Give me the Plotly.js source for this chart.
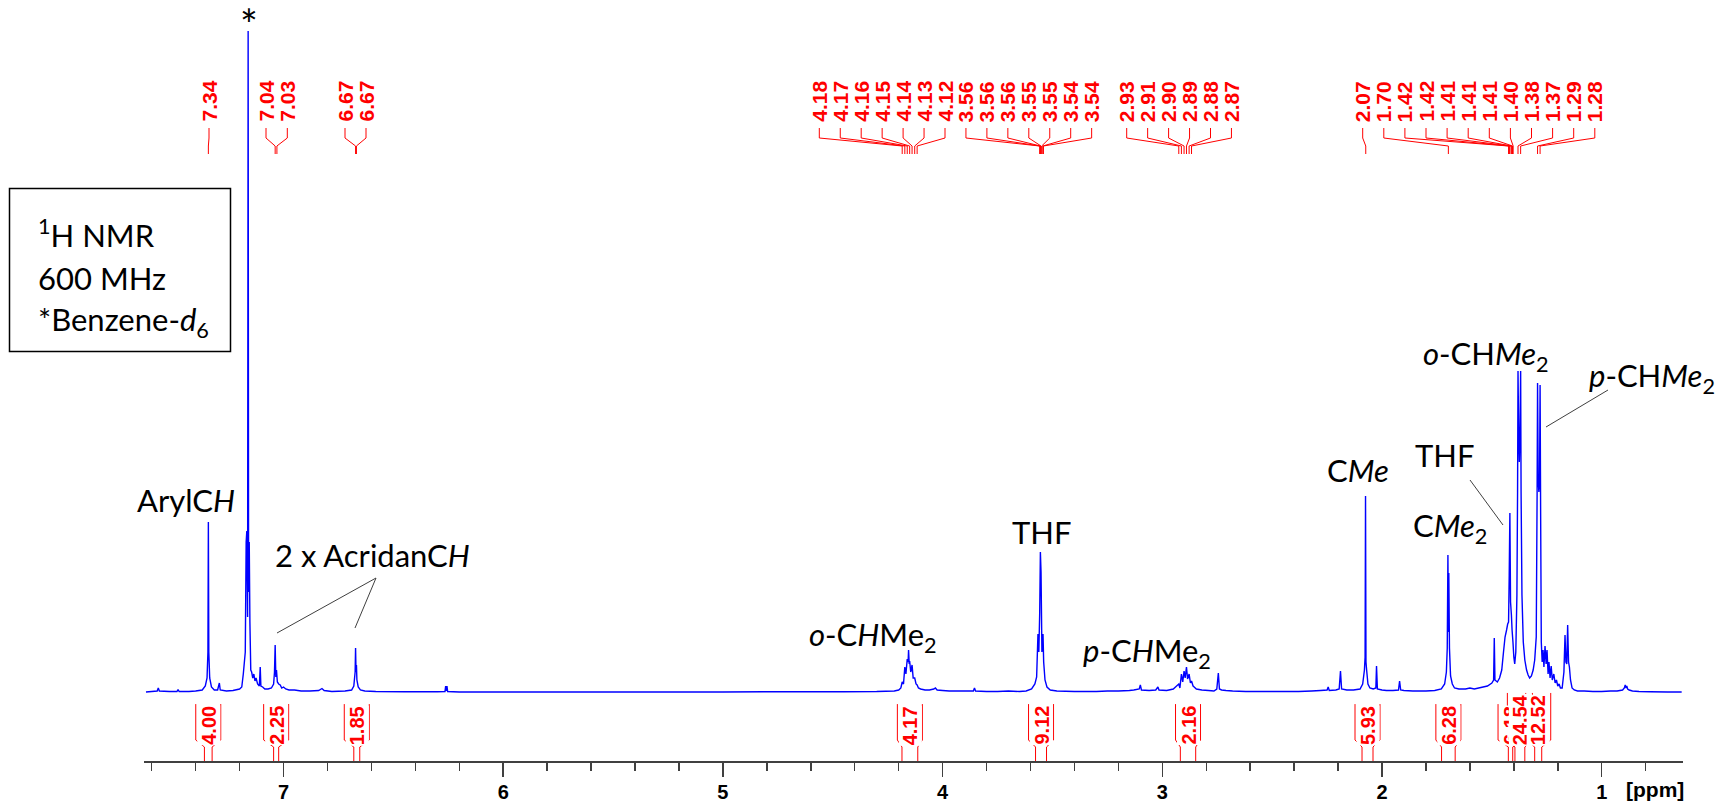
<!DOCTYPE html>
<html><head><meta charset="utf-8">
<script src="https://cdn.plot.ly/plotly-3.0.1.min.js"></script>
<style>html,body{margin:0;padding:0;background:#fff}#chart{width:1720px;height:805px}</style>
</head><body><div id="chart"></div>
<script>
// ---------------- DATA ----------------
const aromaticPpm = [7.626,7.60,7.575,7.570,7.565,7.52,7.485,7.480,7.475,7.43,7.40,7.37,7.356,7.348,7.344,7.342,7.340,7.336,7.328,7.315,7.300,7.292,7.288,7.26,7.23,7.20,7.19,7.183,7.174,7.170,7.167,7.1635,7.161,7.159,7.156,7.153,7.149,7.145,7.140,7.135,7.130,7.125,7.118,7.110,7.106,7.103,7.095,7.085,7.070,7.055,7.045,7.041,7.038,7.035,7.032,7.028,7.022,7.015,7.008,7.000,6.990,6.975,6.95,6.92,6.88,6.84,6.825,6.815,6.78,6.72,6.69,6.680,6.674,6.672,6.670,6.668,6.666,6.660,6.650,6.63,6.58,6.45,6.30,6.265,6.262,6.259,6.256,6.253,6.20,6.00];
const aromaticInt = [0,0.5,1,4,1,0.5,0.5,2.5,0.5,0.5,1,2,6,14,40,170,40,14,5,2,2,9,2,1,1.5,3,5,18,40,150,161,75,661,100,150,70,22,20,14,18,11,14,8,6,25,6,5,3,3,4,8,20,47,15,22,10,8,7,4,5,3,2,2,1,1,1.5,3.5,1.5,0.5,1,2,6,20,44,20,27,12,5,2,1,0.5,0.3,0.3,0.5,6,1,6,0.5,0,0];

const midPpm = [5.8,5.5,5.0,4.7,4.45,4.30,4.22,4.20,4.19,4.184,4.178,4.172,4.167,4.161,4.157,4.155,4.152,4.150,4.145,4.139,4.134,4.127,4.121,4.116,4.110,4.10,4.08,4.06,4.040,4.033,4.025,4.00,3.97,3.93,3.90,3.86,3.855,3.850,3.80,3.75,3.70,3.65,3.62,3.595,3.580,3.572,3.566,3.562,3.558,3.555,3.552,3.548,3.543,3.540,3.534,3.525,3.51,3.48,3.40,3.30,3.25,3.20,3.15,3.13,3.105,3.100,3.095,3.06,3.03,3.020,3.015,2.98,2.95,2.935,2.925,2.920,2.913,2.907,2.901,2.896,2.890,2.885,2.878,2.872,2.867,2.860,2.855,2.845,2.82,2.79,2.765,2.752,2.745,2.740,2.73,2.71,2.68,2.62,2.55,2.45];
const midInt = [0,0,0,0.3,0.3,0.5,1,2,4,10,8,25,18,33,30,42,28,31,20,27,14,14,8,7,4,3,2,2,3,4,2,1.5,1,1,1,1,4,1,0.5,0.5,1,0.5,1,3,8,15,58,40,80,140,120,40,58,30,12,5,2,1,0.5,0.5,1,1,1.5,2,3,7,2,1.5,2,5,2,1.5,3,6,8,4,18,10,21,14,25,13,18,9,11,6,5,3,2,1.5,1,3,19,3,2,1.5,1,0.5,0.5,0.5];

const aliphaticPpm = [2.38,2.32,2.28,2.25,2.245,2.240,2.21,2.195,2.189,2.184,2.16,2.13,2.10,2.088,2.080,2.077,2.075,2.073,2.070,2.064,2.055,2.04,2.028,2.025,2.021,2.00,1.98,1.95,1.925,1.920,1.915,1.90,1.86,1.80,1.76,1.73,1.715,1.707,1.703,1.700,1.698,1.696,1.693,1.688,1.680,1.670,1.65,1.62,1.60,1.58,1.56,1.54,1.52,1.50,1.492,1.489,1.486,1.475,1.465,1.455,1.447,1.440,1.433,1.428,1.424,1.421,1.418,1.415,1.411,1.408,1.404,1.400,1.396,1.391,1.386,1.383,1.381,1.378,1.375,1.372,1.369,1.367,1.363,1.357,1.350,1.342,1.335,1.328,1.320,1.312,1.305,1.298,1.294,1.292,1.289,1.286,1.283,1.2805,1.278,1.275,1.271,1.267,1.263,1.258,1.253,1.249,1.244,1.240,1.235,1.230,1.225,1.218,1.212,1.206,1.200,1.194,1.188,1.180,1.172,1.167,1.163,1.159,1.155,1.151,1.147,1.142,1.135,1.125,1.11,1.08,1.04,1.00,0.96,0.93,0.905,0.897,0.893,0.889,0.886,0.882,0.875,0.86,0.83,0.78,0.70,0.636];
const aliphaticInt = [0.5,1,1.5,2,5,1.5,2,3,21,3,2,2,3,8,22,35,196,30,22,8,4,3,4,26,3,2,1.5,1.5,2,11,2,1.5,1,1,1.5,3,8,20,44,137,60,119,44,16,8,4,3,3,4,3,4,5,6,9,12,54,12,10,14,22,40,55,62,68,70,117,179,90,77,62,50,35,28,40,97,200,321,260,230,260,321,200,97,50,32,22,17,14,16,22,32,55,200,309,211,200,210,307,180,50,30,42,25,46,28,42,18,30,14,26,12,18,9,12,6,8,4,4,20,57,30,28,67,30,25,12,4,2,1,1,0.5,0.5,1,1,2,4,7,4,6,3,2,1,0.5,0.3,0,0];

// peak picking (top labels)
const peakLabels = ['7.34','7.04','7.03','6.67','6.67','4.18','4.17','4.16','4.15','4.14','4.13','4.12','3.56','3.56','3.56','3.55','3.55','3.54','3.54','2.93','2.91','2.90','2.89','2.88','2.87','2.07','1.70','1.42','1.42','1.41','1.41','1.41','1.40','1.38','1.37','1.29','1.28'];
const peakPpm = [7.342,7.038,7.030,6.672,6.668,4.184,4.172,4.161,4.150,4.139,4.127,4.116,3.558,3.556,3.555,3.552,3.549,3.544,3.541,2.925,2.913,2.901,2.890,2.878,2.867,2.074,1.698,1.424,1.420,1.413,1.410,1.406,1.403,1.381,1.369,1.292,1.2805];

// integrals
const integralFrom = [7.360,7.045,6.680,4.185,3.577,2.918,2.091,1.729,1.425,1.395,1.305];
const integralTo   = [7.325,7.022,6.653,4.113,3.527,2.848,2.041,1.667,1.405,1.350,1.273];
const integralValues = ['4.00','2.25','1.85','4.17','9.12','2.16','5.93','6.28','6.18','24.54','12.52'];

// axis ticks
const majorTickStep = 1, minorTickStep = 0.2;

// ---------------- LAYOUT HELPERS ----------------
const PX_L = 144, PX_R = 1683, PPM_L = 7.635, PPM_R = 0.63, AXIS_PY = 761, BASE_PY = 692;
const ppmAt = px => PPM_L - (px - PX_L) * (PPM_L - PPM_R) / (PX_R - PX_L);
const yAt = py => BASE_PY - py;
const paperX = px => (px - PX_L) / (PX_R - PX_L);
const paperY = py => (AXIS_PY - py) / AXIS_PY;

// label slot clusters (pixel start, count, step)
const labelClusters = [[209,1,21],[266,2,21.3],[345,2,21],[819.3,14,20.95],[1126.7,6,20.95],[1362.7,12,21.1]];
const labelPx = [];
labelClusters.forEach(([s,n,st]) => { for (let i=0;i<n;i++) labelPx.push(s + i*st); });

const RED = '#ff0000';
const ARIAL = 'Liberation Sans, Arial, sans-serif';
const shapes = [];
const annotations = [];

// peak labels + leaders
peakLabels.forEach((t, i) => {
  const lx = ppmAt(labelPx[i]), px = peakPpm[i];
  annotations.push({x: lx, y: yAt(124), xref:'x', yref:'y', text: '<b>' + t + '</b>', textangle: -90,
    xanchor:'center', yanchor:'bottom', showarrow:false,
    font:{family:ARIAL, size:21, color:RED}});
  shapes.push({type:'path', xref:'x', yref:'y', layer:'above',
    path:`M ${lx},${yAt(128)} L ${lx},${yAt(138)} L ${px},${yAt(146)} L ${px},${yAt(154)}`,
    line:{color:RED, width:1}});
});

// integrals
const halfBox = 12.5 * (PPM_L - PPM_R) / (PX_R - PX_L);
integralValues.forEach((t, i) => {
  const a = integralFrom[i], b = integralTo[i], c = (a + b) / 2;
  const textLen = ((t.length - 1) * 0.556 + 0.278) * 20;
  const topPy = 746 - textLen - 3;
  shapes.push({type:'path', xref:'x', yref:'y', layer:'above',
    path:`M ${a},${yAt(AXIS_PY)} L ${a},${yAt(747)} L ${c+halfBox},${yAt(740)} L ${c+halfBox},${yAt(topPy)}`,
    line:{color:RED, width:1}});
  shapes.push({type:'path', xref:'x', yref:'y', layer:'above',
    path:`M ${b},${yAt(AXIS_PY)} L ${b},${yAt(747)} L ${c-halfBox},${yAt(740)} L ${c-halfBox},${yAt(topPy)}`,
    line:{color:RED, width:1}});
  annotations.push({x: c, y: yAt(746), xref:'x', yref:'y', text: '<b>' + t + '</b>', textangle: -90,
    xanchor:'center', yanchor:'bottom', showarrow:false, bgcolor:'#ffffff', borderpad:0,
    font:{family:ARIAL, size:20, color:RED}});
});

// black text labels
const LBL = {family:'Lato, "Open Sans", sans-serif', size:31, color:'#000000'};
function lab(text, px, py, xanchor, size) {
  annotations.push({x: ppmAt(px), y: yAt(py), xref:'x', yref:'y', text, showarrow:false,
    xanchor: xanchor || 'center', yanchor:'middle', font: Object.assign({}, LBL, size ? {size} : {})});
}
lab('*', 249, 24, 'center', 42);
lab('ArylC<i>H</i>', 186, 500);
lab('2 x AcridanC<i>H</i>', 273, 555, 'left');
lab('<i>o</i>-C<i>H</i>Me<sub>2</sub>', 873, 636);
lab('THF', 1042, 532);
lab('<i>p</i>-C<i>H</i>Me<sub>2</sub>', 1147, 652);
lab('C<i>Me</i>', 1358, 470);
lab('C<i>Me</i><sub>2</sub>', 1450, 527);
lab('THF', 1445, 455);
lab('<i>o</i>-CH<i>Me</i><sub>2</sub>', 1486, 355);
lab('<i>p</i>-CH<i>Me</i><sub>2</sub>', 1652, 377);

// leader lines for black labels
const GREY = '#404040';
[[277,633,376,578],[376,578,355,628],[1470,480,1503,525],[1608,390,1546,427]].forEach(([x1,y1,x2,y2]) => {
  shapes.push({type:'line', xref:'x', yref:'y', x0:ppmAt(x1), y0:yAt(y1), x1:ppmAt(x2), y1:yAt(y2),
    line:{color:GREY, width:1}});
});

// info box
shapes.push({type:'rect', xref:'paper', yref:'paper', x0:paperX(9.5), x1:paperX(230.5), y0:paperY(351.5), y1:paperY(188.5),
  line:{color:'#000000', width:1.5}, fillcolor:'rgba(0,0,0,0)'});
const boxFont = {family:'Lato, "Open Sans", sans-serif', size:31, color:'#000000'};
[['<sup>1</sup>H NMR',233],['600 MHz',278],['*Benzene-<i>d</i><sub>6</sub>',322]].forEach(([t,py]) => {
  annotations.push({xref:'paper', yref:'paper', x:paperX(36), y:paperY(py), text:t, showarrow:false,
    xanchor:'left', yanchor:'middle', font:boxFont});
});

// ppm unit
annotations.push({x: paperX(1654.5), y: paperY(789), xref:'paper', yref:'paper', text:'<b>[ppm]</b>', showarrow:false,
  xanchor:'center', yanchor:'middle', font:{family:ARIAL, size:21, color:'#000'}});

const trace = {
  x: aromaticPpm.concat(midPpm, aliphaticPpm),
  y: aromaticInt.concat(midInt, aliphaticInt),
  type:'scatter', mode:'lines', line:{color:'#0000ff', width:1.4, simplify:false}, hoverinfo:'skip'
};

const layout = {
  width:1720, height:805,
  margin:{l:PX_L, r:1720-PX_R, t:0, b:805-AXIS_PY},
  paper_bgcolor:'#ffffff', plot_bgcolor:'#ffffff',
  showlegend:false,
  xaxis:{range:[PPM_L, PPM_R], showgrid:false, zeroline:false, showline:true, linecolor:'#404040', linewidth:2,
    ticks:'outside', ticklen:14, tickwidth:1.5, tickcolor:'#404040', tick0:0, dtick:majorTickStep,
    minor:{ticks:'outside', dtick:minorTickStep, tick0:0, ticklen:8, tickwidth:1.5, tickcolor:'#404040', showgrid:false},
    tickfont:{family:ARIAL, size:20, color:'#000', weight:'bold'}, ticklabelstandoff:-2, fixedrange:true},
  yaxis:{range:[yAt(AXIS_PY), BASE_PY], visible:false, fixedrange:true},
  shapes, annotations
};
Plotly.newPlot('chart', [trace], layout, {displayModeBar:false, staticPlot:true});
</script></body></html>
